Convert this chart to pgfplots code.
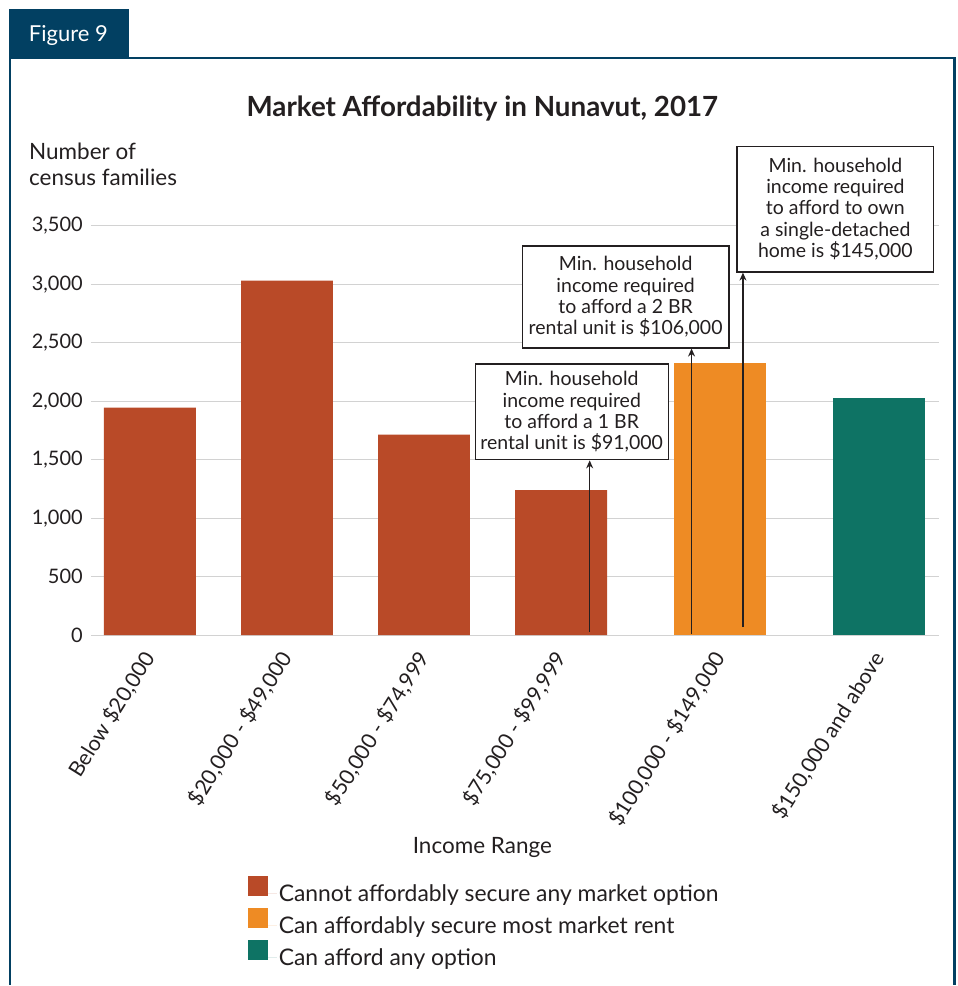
\documentclass[border=0pt]{standalone}
\usepackage{fontspec}
\setmainfont{Lato}
\usepackage{pgfplots}
\usepackage{pgfplotstable}
\pgfplotsset{compat=1.18}
\usetikzlibrary{arrows.meta}

\definecolor{barred}{RGB}{185,74,40}
\definecolor{barorange}{RGB}{238,139,36}
\definecolor{barteal}{RGB}{14,115,100}
\definecolor{frameblue}{RGB}{2,64,98}
\definecolor{gridgray}{RGB}{210,210,210}
\definecolor{ink}{RGB}{35,31,32}

% Census families by income range, split by what each range can afford
\pgfplotstableread{
x    y
0    1945
1    3030
2    1715
3    1240
}\cannotafford
\pgfplotstableread{
x    y
4.16 2330
}\mostrent
\pgfplotstableread{
x    y
5.32 2025
}\anyoption

\pgfplotsset{
  sq legend/.style={legend image code/.code={%
    \fill[##1] (0pt,-2.5pt) rectangle (20pt,17.5pt);
    \path (0pt,0pt) -- (29pt,0pt);}},
}

\begin{document}
\begin{tikzpicture}
\path (0,0) rectangle (959pt,-986pt);

% figure frame and tab
\draw[frameblue, line width=2.6pt] (10pt,-986pt) -- (10pt,-58pt) -- (956pt,-58pt) -- (956pt,-986pt);
\fill[frameblue] (8.7pt,-9pt) rectangle (129pt,-58pt);
\node[white, anchor=base, inner sep=0pt, font=\fontsize{22}{26}\selectfont] at (68.5pt,-42pt) {Figure 9};

\begin{axis}[
  at={(91pt,-636pt)}, anchor=south west,
  scale only axis, width=849pt, height=410pt,
  xmin=-0.43, xmax=5.754, ymin=0, ymax=3500,
  axis line style={draw=none},
  major tick length=0pt,
  ymajorgrids, grid style={gridgray, line width=1.3pt},
  ytick={0,500,...,3500},
  yticklabel style={font=\fontsize{20}{24}\selectfont, text=ink, anchor=east, inner sep=0pt, xshift=-8pt,
    /pgf/number format/.cd, 1000 sep={,}, assume math mode=true},
  xtick={0,1,2,3,4.16,5.32},
  xticklabels={{Below \$20,000},{\$20,000 - \$49,000},{\$50,000 - \$74,999},{\$75,000 - \$99,999},{\$100,000 - \$149,000},{\$150,000 and above}},
  xticklabel style={font=\fontsize{21.2}{24}\selectfont, text=ink, rotate=58, anchor=east, inner sep=0pt},
  xticklabel shift=19pt,
  clip=false,
  legend style={at={(0.1849,-0.588)}, anchor=north west, draw=none, fill=none, inner sep=0pt,
    font=\fontsize{22.9}{27}\selectfont, text=ink, row sep=3.3pt},
  legend cell align=left,
]
\addplot[ybar, bar width=0.67, bar shift=0pt, fill=barred, draw=none, sq legend] table[x=x,y=y]{\cannotafford};
\addlegendentry{Cannot affordably secure any market option}
\addplot[ybar, bar width=0.67, bar shift=0pt, fill=barorange, draw=none, sq legend] table[x=x,y=y]{\mostrent};
\addlegendentry{Can affordably secure most market rent}
\addplot[ybar, bar width=0.67, bar shift=0pt, fill=barteal, draw=none, sq legend] table[x=x,y=y]{\anyoption};
\addlegendentry{Can afford any option}

% income thresholds
\begin{scope}[every node/.style={draw=ink, line width=1.2pt, fill=white, text=ink, align=center,
    anchor=south, inner sep=0pt, font=\fontsize{19.5}{21.3}\selectfont}]
\node[minimum width=193pt, minimum height=96pt] at (axis cs:3.077,1494)
  {Min. household\\income required\\to afford a 1 BR\\rental unit is \$91,000};
\node[minimum width=207pt, minimum height=102pt] at (axis cs:3.470,2450)
  {Min. household\\income required\\to afford a 2 BR\\rental unit is \$106,000};
\node[minimum width=197pt, minimum height=126pt] at (axis cs:5.0,3099)
  {Min. household\\income required\\to afford to own\\a single-detached\\home is \$145,000};
\end{scope}
\begin{scope}[ink, line width=1.2pt, -{Stealth[length=8pt,width=7pt]}]
\draw (axis cs:3.208,28) -- (axis cs:3.208,1494);
\draw (axis cs:3.951,8) -- (axis cs:3.951,2450);
\draw (axis cs:4.326,68) -- (axis cs:4.326,3099);
\end{scope}
\end{axis}

\node[anchor=base, inner sep=0pt, text=ink, font=\fontsize{27.8}{32}\bfseries\selectfont] at (483pt,-117pt)
  {Market Affordability in Nunavut, 2017};
\node[anchor=base west, inner sep=0pt, text=ink, font=\fontsize{22.5}{26}\selectfont] at (29pt,-160pt) {Number of};
\node[anchor=base west, inner sep=0pt, text=ink, font=\fontsize{22.5}{26}\selectfont] at (29pt,-186pt) {census families};
\node[anchor=base, inner sep=0pt, text=ink, font=\fontsize{22.5}{26}\selectfont] at (483pt,-855pt) {Income Range};
\end{tikzpicture}
\end{document}
